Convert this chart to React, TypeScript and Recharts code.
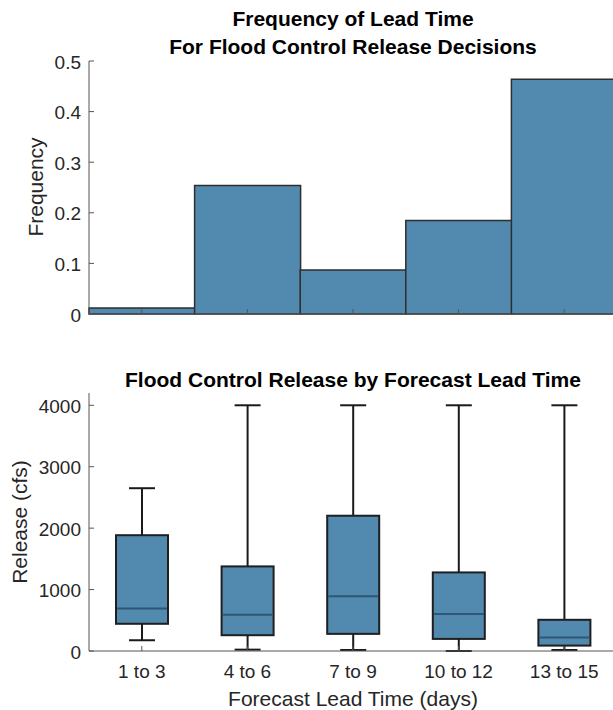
import React from 'react';
import { BarChart, Bar, XAxis, YAxis } from 'recharts';

const leadBins = ['1 to 3', '4 to 6', '7 to 9', '10 to 12', '13 to 15'];
const leadFrequency = [0.012, 0.254, 0.087, 0.185, 0.464];
const freqTicks = [0, 0.1, 0.2, 0.3, 0.4, 0.5];

// box plot stats per lead-time bin (cfs)
const releaseLow = [175, 22, 16, 0, 16];
const releaseQ1 = [443, 257, 279, 197, 88];
const releaseMedian = [690, 590, 890, 601, 219];
const releaseQ3 = [1885, 1377, 2202, 1279, 508];
const releaseHigh = [2650, 4000, 4000, 4000, 4000];
const releaseTicks = [0, 1000, 2000, 3000, 4000];

const FILL = '#5289af';
const EDGE = '#2e2e2e';
const AXIS = '#555555';
const TEXT = '#262626';
const FONT = '"Liberation Sans", Arial, Helvetica, sans-serif';
const TICK_LEN = 5;

const histData = leadBins.map((name, i) => ({ name, freq: leadFrequency[i] }));
const boxData = leadBins.map((name, i) => ({
  name,
  low: releaseLow[i],
  q1: releaseQ1[i],
  median: releaseMedian[i],
  q3: releaseQ3[i],
  high: releaseHigh[i],
}));

// MATLAB style: tick marks point into the plot box
const leftTick = (margin: number) => (props: any) => {
  const { x, y, payload } = props;
  const ax = x + margin;
  return (
    <g>
      <line x1={ax} x2={ax + TICK_LEN} y1={y} y2={y} stroke={AXIS} />
      <text x={x} y={y} dy="0.4em" textAnchor="end" fontSize={19} fill={TEXT}>
        {String(payload.value)}
      </text>
    </g>
  );
};

const rightTick = (props: any) => {
  const { x, y } = props;
  return <line x1={x} x2={x - TICK_LEN} y1={y} y2={y} stroke={AXIS} />;
};

const topTick = (props: any) => {
  const { x, y } = props;
  return <line x1={x} x2={x} y1={y} y2={y + TICK_LEN} stroke={AXIS} />;
};

const bottomTick = (withLabel: boolean) => (props: any) => {
  const { x, y, payload } = props;
  return (
    <g>
      <line x1={x} x2={x} y1={y} y2={y - TICK_LEN} stroke={AXIS} />
      {withLabel && (
        <text x={x} y={y + 27} textAnchor="middle" fontSize={19} fill={TEXT}>
          {payload.value}
        </text>
      )}
    </g>
  );
};

const BoxShape = (props: any) => {
  const { x, y, width, height, payload } = props;
  const span = payload.high - payload.low;
  const py = (v: number) => y + (height * (payload.high - v)) / span;
  const cx = x + width / 2;
  const cap = width / 4;
  return (
    <g>
      <line x1={cx} x2={cx} y1={py(payload.high)} y2={py(payload.low)} stroke="#1a1a1a" strokeWidth={2} />
      <rect
        x={x}
        y={py(payload.q3)}
        width={width}
        height={py(payload.q1) - py(payload.q3)}
        fill={FILL}
        stroke="#1f1f1f"
        strokeWidth={2}
      />
      <line x1={x + 1} x2={x + width - 1} y1={py(payload.median)} y2={py(payload.median)} stroke="#2f5675" strokeWidth={2} />
      <line x1={cx - cap} x2={cx + cap} y1={py(payload.high)} y2={py(payload.high)} stroke="#1a1a1a" strokeWidth={2} />
      <line x1={cx - cap} x2={cx + cap} y1={py(payload.low)} y2={py(payload.low)} stroke="#1a1a1a" strokeWidth={2} />
    </g>
  );
};

const titleStyle: React.CSSProperties = {
  position: 'absolute',
  left: 89,
  width: 528,
  textAlign: 'center',
  fontWeight: 'bold',
  fontSize: 21,
  lineHeight: '28px',
  color: '#000',
  whiteSpace: 'nowrap',
};

const yLabel = (text: string, cx: number, cy: number) => (
  <div
    style={{
      position: 'absolute',
      left: cx - 100,
      top: cy - 12,
      width: 200,
      height: 24,
      lineHeight: '24px',
      fontSize: 21,
      textAlign: 'center',
      color: TEXT,
      transform: 'rotate(-90deg)',
      whiteSpace: 'nowrap',
    }}
  >
    {text}
  </div>
);

const axisLine = { stroke: AXIS, strokeWidth: 1 };

export default function App() {
  return (
    <div
      style={{
        position: 'absolute',
        left: 0,
        top: 0,
        width: 613,
        height: 710,
        overflow: 'hidden',
        background: '#fff',
        fontFamily: FONT,
      }}
    >
      <div style={{ ...titleStyle, top: 5 }}>
        Frequency of Lead Time
        <br />
        For Flood Control Release Decisions
      </div>
      {yLabel('Frequency', 36, 187)}

      <div style={{ position: 'absolute', left: 0, top: 0 }}>
        <BarChart width={640} height={340} data={histData} margin={{ top: 61, right: 0, bottom: 0, left: 0 }} barCategoryGap={0}>
          <Bar dataKey="freq" fill={FILL} stroke={EDGE} strokeWidth={1.5} isAnimationActive={false} />
          <XAxis dataKey="name" height={26} interval={0} tickSize={0} tickMargin={0} axisLine={axisLine} tickLine={false} tick={bottomTick(false)} />
          <XAxis xAxisId="top" orientation="top" dataKey="name" height={0} interval={0} tickSize={0} tickMargin={0} axisLine={axisLine} tickLine={false} tick={topTick} />
          <YAxis width={89} domain={[0, 0.5]} ticks={freqTicks} tickSize={0} tickMargin={8} axisLine={axisLine} tickLine={false} tick={leftTick(8)} />
          <YAxis yAxisId="right" orientation="right" width={23} domain={[0, 0.5]} ticks={freqTicks} tickSize={0} tickMargin={0} axisLine={axisLine} tickLine={false} tick={rightTick} />
        </BarChart>
      </div>

      <div style={{ ...titleStyle, top: 366 }}>Flood Control Release by Forecast Lead Time</div>
      {yLabel('Release (cfs)', 20, 522)}

      <div style={{ position: 'absolute', left: 0, top: 360 }}>
        <BarChart width={640} height={350} data={boxData} margin={{ top: 33, right: 0, bottom: 0, left: 0 }}>
          <Bar
            dataKey={(d: any) => [d.low, d.high]}
            barSize={52}
            shape={<BoxShape />}
            isAnimationActive={false}
          />
          <XAxis
            dataKey="name"
            height={59}
            interval={0}
            tickSize={0}
            tickMargin={0}
            axisLine={axisLine}
            tickLine={false}
            tick={bottomTick(true)}
            label={{ value: 'Forecast Lead Time (days)', position: 'insideBottom', offset: 4, fontSize: 21, fill: TEXT }}
          />
          <XAxis xAxisId="top" orientation="top" dataKey="name" height={0} interval={0} tickSize={0} tickMargin={0} axisLine={axisLine} tickLine={false} tick={topTick} />
          <YAxis width={89} domain={[0, 4200]} ticks={releaseTicks} tickSize={0} tickMargin={8} axisLine={axisLine} tickLine={false} tick={leftTick(8)} />
          <YAxis yAxisId="right" orientation="right" width={23} domain={[0, 4200]} ticks={releaseTicks} tickSize={0} tickMargin={0} axisLine={axisLine} tickLine={false} tick={rightTick} />
        </BarChart>
      </div>
    </div>
  );
}
